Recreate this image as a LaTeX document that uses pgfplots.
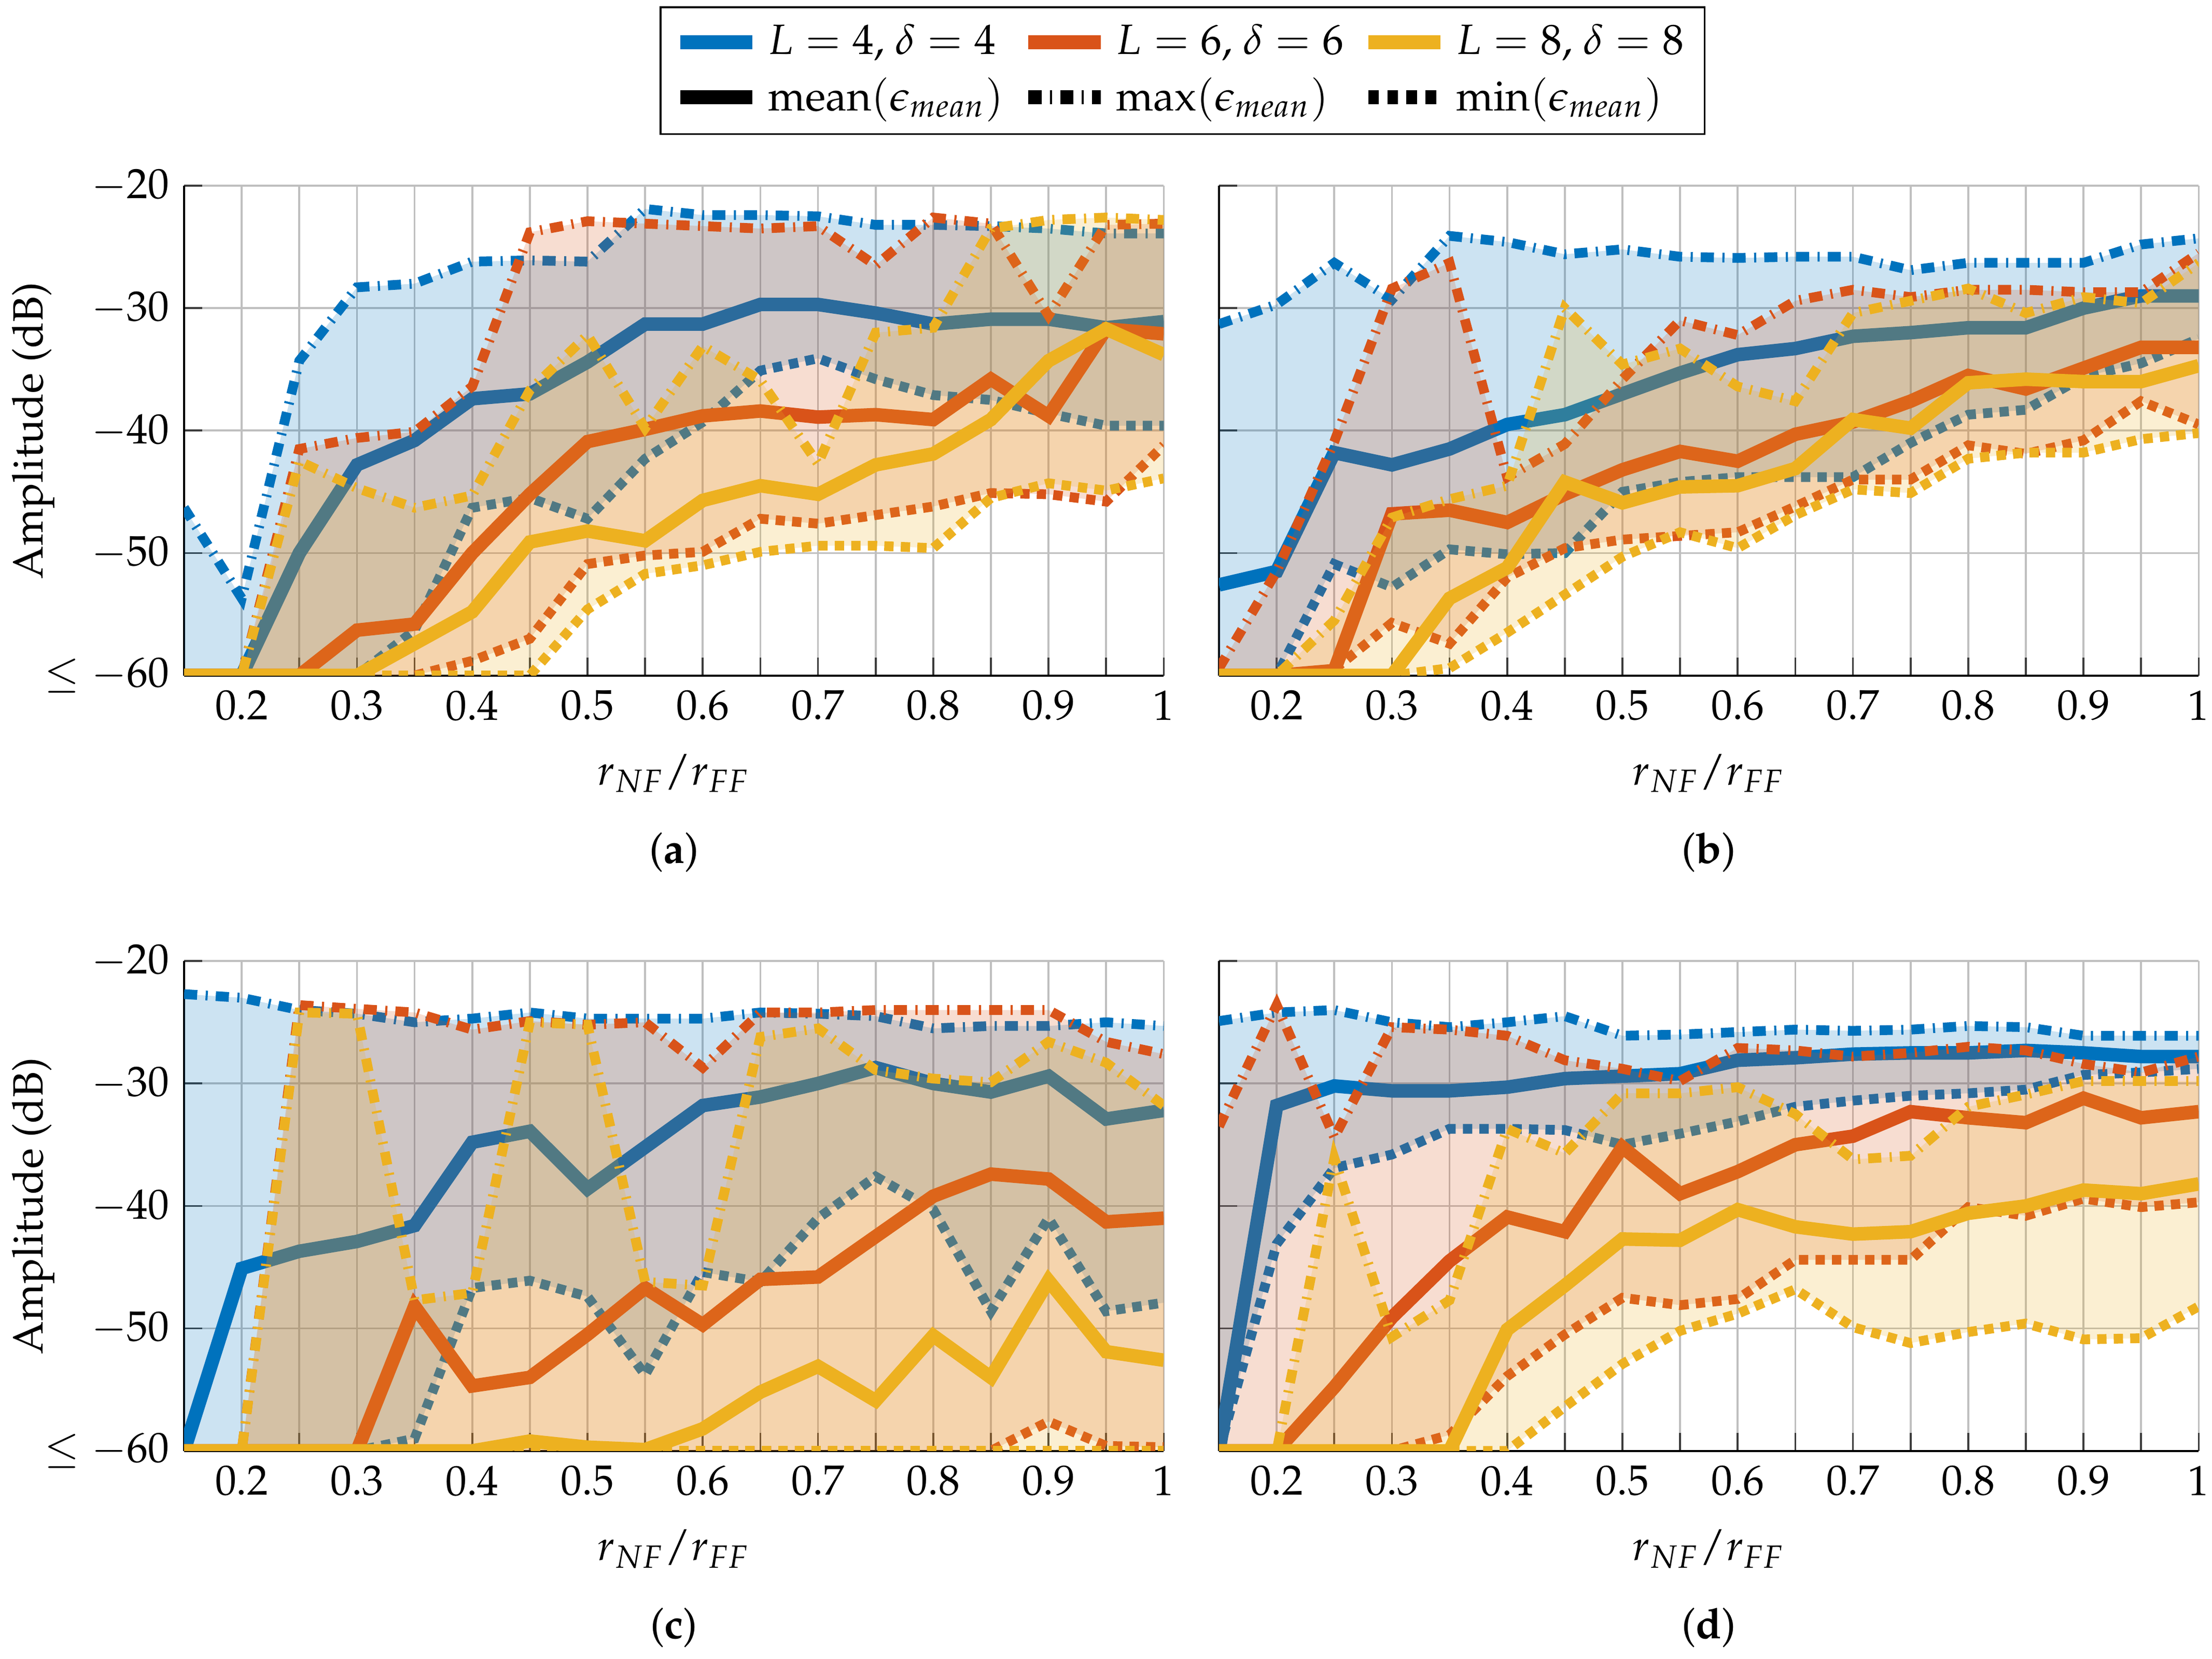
\documentclass[border=0pt]{standalone}
\usepackage[T1]{fontenc}
\usepackage{mathpazo}
\usepackage{pgfplots}
\pgfplotsset{compat=1.18}
\usepackage{pgfplotstable}
\usepgfplotslibrary{fillbetween}

% draw the filled areas in sequence with the lines (not on a layer below them)
\pgfkeysifdefined{/tikz/fill between/on layer/.@cmd}{\tikzset{fill between/on layer=main}}{}
\pgfkeysifdefined{/tikz/fill between/on layer}{\tikzset{fill between/on layer=main}}{}
\pgfkeysifdefined{/pgfplots/fill between/on layer/.@cmd}{\pgfplotsset{fill between/on layer=main}}{}
\pgfkeysifdefined{/pgfplots/fill between/on layer}{\pgfplotsset{fill between/on layer=main}}{}

\definecolor{mblue}{RGB}{0,114,189}
\definecolor{morange}{RGB}{217,83,25}
\definecolor{myellow}{RGB}{237,177,32}
\definecolor{gridc}{RGB}{191,191,191}
\definecolor{tickc}{RGB}{60,60,60}

% panel (a)
\pgfplotstableread{
x    bmean  bmax   bmin   omean  omax   omin   ymean  ymax   ymin
0.15 -60    -46.3  -60    -60    -60    -60    -60    -60    -60
0.20 -60    -53.7  -60    -60    -60    -60    -60    -60    -60
0.25 -50.0  -34.3  -60    -60    -41.5  -60    -60    -42.5  -60
0.30 -42.8  -28.3  -60    -56.3  -40.6  -60    -60    -44.7  -60
0.35 -40.8  -28.0  -56.3  -55.8  -40.1  -60    -57.4  -46.3  -60
0.40 -37.4  -26.2  -46.3  -50.0  -36.4  -58.8  -54.8  -45.3  -60
0.45 -37.0  -26.1  -45.5  -45.2  -23.8  -57.0  -49.1  -36.7  -60
0.50 -34.4  -26.2  -47.2  -40.9  -22.9  -50.9  -48.2  -32.2  -54.6
0.55 -31.3  -21.9  -42.3  -39.9  -23.1  -50.2  -49.0  -39.8  -51.7
0.60 -31.3  -22.4  -39.3  -38.8  -23.3  -49.9  -45.7  -33.1  -51.0
0.65 -29.7  -22.4  -35.1  -38.4  -23.5  -47.2  -44.5  -35.9  -49.9
0.70 -29.7  -22.5  -34.1  -38.9  -23.3  -47.6  -45.2  -42.7  -49.4
0.75 -30.4  -23.2  -35.8  -38.7  -26.5  -46.9  -42.8  -32.0  -49.4
0.80 -31.3  -23.2  -37.1  -39.1  -22.6  -46.2  -41.9  -31.6  -49.6
0.85 -30.9  -23.3  -37.5  -35.8  -23.1  -45.1  -39.1  -23.5  -45.5
0.90 -30.9  -23.5  -38.6  -38.8  -30.6  -45.2  -34.3  -22.8  -44.3
0.95 -31.6  -23.9  -39.6  -31.7  -23.2  -45.8  -31.7  -22.6  -44.9
1.00 -31.1  -23.9  -39.6  -32.1  -23.1  -41.2  -33.8  -22.8  -43.9
}\tabA

% panel (b)
\pgfplotstableread{
x    bmean  bmax   bmin   omean  omax   omin   ymean  ymax   ymin
0.15 -52.6  -31.3  -60    -60    -59.4  -60    -60    -60    -60
0.20 -51.5  -29.7  -60    -60    -51.5  -60    -60    -60    -60
0.25 -41.8  -26.3  -50.9  -59.6  -40.9  -59.5  -60    -55.5  -60
0.30 -42.8  -29.3  -52.8  -46.8  -28.4  -55.7  -60    -47.1  -60
0.35 -41.5  -24.1  -49.7  -46.5  -26.3  -57.4  -53.7  -45.6  -59.4
0.40 -39.5  -24.6  -50.1  -47.5  -43.8  -52.0  -51.2  -44.5  -56.5
0.45 -38.7  -25.6  -50.0  -45.2  -41.1  -49.6  -44.2  -30.0  -53.4
0.50 -37.0  -25.2  -45.0  -43.2  -35.8  -48.9  -45.9  -34.6  -50.3
0.55 -35.3  -25.8  -44.2  -41.7  -31.0  -48.6  -44.6  -33.3  -48.3
0.60 -33.8  -25.9  -43.8  -42.5  -32.2  -48.3  -44.5  -36.4  -49.6
0.65 -33.3  -25.8  -43.8  -40.3  -29.4  -46.2  -43.1  -37.6  -46.9
0.70 -32.3  -25.8  -43.8  -39.3  -28.5  -44.0  -39.1  -30.4  -44.8
0.75 -32.0  -26.9  -41.0  -37.6  -29.1  -44.0  -39.8  -29.4  -45.1
0.80 -31.6  -26.3  -38.7  -35.5  -28.5  -41.2  -36.1  -28.4  -42.3
0.85 -31.6  -26.3  -38.3  -36.6  -28.5  -41.9  -35.8  -30.4  -41.8
0.90 -30.0  -26.3  -35.6  -34.9  -28.7  -40.8  -36.0  -29.1  -41.8
0.95 -29.0  -24.8  -34.5  -33.2  -28.7  -37.6  -36.0  -29.6  -40.7
1.00 -29.0  -24.3  -32.5  -33.2  -25.5  -39.5  -34.7  -26.3  -40.2
}\tabB

% panel (c)
\pgfplotstableread{
x    bmean  bmax   bmin   omean  omax   omin   ymean  ymax   ymin
0.15 -60    -22.7  -60    -60    -60    -60    -60    -60    -60
0.20 -45.1  -23.0  -60    -60    -60    -60    -60    -60    -60
0.25 -43.7  -24.0  -60    -60    -23.6  -60    -60    -24.2  -60
0.30 -42.9  -24.3  -60    -60    -23.9  -60    -60    -24.3  -60
0.35 -41.6  -25.0  -59.0  -48.2  -24.2  -60    -60    -47.7  -60
0.40 -34.8  -24.7  -46.7  -54.7  -25.6  -60    -60    -47.1  -60
0.45 -33.9  -24.2  -46.1  -54.0  -24.9  -60    -59.2  -25.0  -60
0.50 -38.6  -24.7  -47.4  -50.5  -25.2  -60    -59.7  -25.2  -60
0.55 -35.2  -24.7  -53.8  -46.7  -25.0  -60    -59.9  -46.2  -60
0.60 -31.8  -24.7  -45.4  -49.7  -28.7  -60    -58.2  -46.5  -60
0.65 -31.1  -24.2  -46.2  -46.0  -24.2  -60    -55.2  -26.2  -60
0.70 -30.0  -24.3  -41.0  -45.8  -24.2  -60    -53.1  -25.5  -60
0.75 -28.7  -24.5  -37.6  -42.5  -24.0  -60    -55.9  -28.9  -60
0.80 -30.0  -25.5  -40.3  -39.2  -24.0  -60    -50.6  -29.6  -60
0.85 -30.7  -25.3  -48.6  -37.4  -24.0  -60    -54.0  -29.9  -60
0.90 -29.4  -25.3  -41.0  -37.8  -24.0  -57.6  -46.1  -26.6  -60
0.95 -32.9  -25.0  -48.6  -41.3  -26.6  -59.6  -51.9  -28.3  -60
1.00 -32.2  -25.3  -47.9  -41.0  -27.6  -59.7  -52.6  -31.8  -60
}\tabC

% panel (d)
\pgfplotstableread{
x    bmean  bmax   bmin   omean  omax   omin   ymean  ymax   ymin
0.15 -60    -24.9  -60    -60    -33.5  -60    -60    -60    -60
0.20 -31.8  -24.2  -43.1  -60    -23.6  -60    -60    -60    -60
0.25 -30.2  -24.0  -36.9  -54.8  -34.4  -60    -60    -36.1  -60
0.30 -30.6  -25.0  -35.8  -49.1  -25.4  -60    -60    -50.7  -60
0.35 -30.6  -25.4  -33.7  -44.5  -25.6  -58.7  -60    -47.7  -60
0.40 -30.3  -25.0  -33.7  -40.9  -26.1  -53.9  -50.1  -33.7  -60
0.45 -29.6  -24.5  -33.8  -42.1  -28.1  -50.5  -46.5  -35.7  -56.4
0.50 -29.4  -26.1  -35.0  -35.2  -28.8  -47.5  -42.7  -30.8  -52.9
0.55 -29.2  -26.0  -34.1  -39.0  -29.8  -48.1  -42.8  -30.8  -50.2
0.60 -28.1  -25.8  -33.1  -37.2  -27.1  -47.6  -40.3  -30.3  -48.8
0.65 -27.9  -25.6  -31.9  -35.0  -27.3  -44.4  -41.7  -32.5  -46.8
0.70 -27.6  -25.7  -31.4  -34.3  -27.8  -44.4  -42.3  -36.2  -49.9
0.75 -27.5  -25.6  -31.0  -32.3  -27.5  -44.4  -42.1  -35.9  -51.2
0.80 -27.5  -25.3  -30.8  -32.8  -27.0  -40.1  -40.6  -31.9  -50.3
0.85 -27.3  -25.4  -30.5  -33.2  -27.3  -40.8  -40.0  -30.9  -49.6
0.90 -27.5  -26.1  -29.3  -31.2  -28.4  -39.4  -38.7  -29.8  -50.9
0.95 -27.8  -26.1  -29.1  -32.8  -29.1  -40.1  -39.0  -29.8  -50.8
1.00 -27.8  -26.1  -28.8  -32.3  -27.8  -39.7  -38.2  -29.8  -48.2
}\tabD

\pgfplotsset{
  panel/.style={
    scale only axis, width=231.46pt, height=115.70pt,
    xmin=0.15, xmax=1, ymin=-60, ymax=-20,
    axis x line*=bottom, axis y line*=left,
    axis line style={black, line width=0.5pt},
    xtick={0.2,0.3,0.4,0.5,0.6,0.7,0.8,0.9,1},
    minor xtick={0.15,0.25,0.35,0.45,0.55,0.65,0.75,0.85,0.95},
    ytick={-60,-50,-40,-30,-20},
    grid=both,
    major grid style={gridc, line width=0.45pt},
    minor grid style={gridc, line width=0.45pt},
    tick align=inside,
    major tick length=4.25pt, minor tick length=4.25pt,
    tick style={tickc, line width=0.45pt},
    xlabel={$r_{NF}/r_{FF}$},
    xlabel style={at={(axis description cs:0.5,-0.1996)}, anchor=center},
  },
  leftpanel/.style={
    yticklabels={$\leq -60$,$-50$,$-40$,$-30$,$-20$},
    ylabel={Amplitude (dB)},
    ylabel style={at={(axis description cs:-0.154,0.5)}, anchor=center},
  },
  rightpanel/.style={yticklabels={}},
  maxst/.style={line width=2.3pt, dash pattern=on 3.1pt off 2pt on 0.5pt off 1.9pt},
  minst/.style={line width=2.3pt, dash pattern=on 2.2pt off 1.7pt},
  meanst/.style={line width=3.2pt},
}

\newcommand{\grp}[4]{%
  \addplot[maxst, color=#3, name path=#4#2max] table[x=x, y=#2max] {#1};
  \addplot[minst, color=#3, name path=#4#2min] table[x=x, y=#2min] {#1};
  \addplot[fill=#3, fill opacity=0.2, draw=none] fill between[of=#4#2max and #4#2min];
  \addplot[meanst, color=#3] table[x=x, y=#2mean] {#1};
}
\newcommand{\allgrp}[2]{%
  \grp{#1}{b}{mblue}{#2}%
  \grp{#1}{o}{morange}{#2}%
  \grp{#1}{y}{myellow}{#2}%
}

\begin{document}
\begin{tikzpicture}
% (a)
\begin{axis}[panel, leftpanel, at={(0pt,0pt)}, anchor=south west,
  legend style={at={(1.0193,1.235)}, anchor=center, draw=black, fill=white,
    legend columns=3, legend cell align=left,
    /tikz/every even column/.append style={column sep=2.2pt}},
  extra description/.code={\node at (0.5,-0.3607) {(\textbf{a})};}]
\addlegendimage{line width=3.3pt, mblue}
\addlegendentry{$L=4$, $\delta=4$}
\addlegendimage{line width=3.3pt, morange}
\addlegendentry{$L=6$, $\delta=6$}
\addlegendimage{line width=3.3pt, myellow}
\addlegendentry{$L=8$, $\delta=8$}
\addlegendimage{line width=3.3pt, black}
\addlegendentry{$\mathrm{mean}(\epsilon_{mean})$}
\addlegendimage{line width=3.3pt, black, dash pattern=on 3.1pt off 2pt on 0.5pt off 1.9pt}
\addlegendentry{$\max(\epsilon_{mean})$}
\addlegendimage{line width=3.3pt, black, dash pattern=on 2.5pt off 2pt}
\addlegendentry{$\min(\epsilon_{mean})$}
\allgrp{\tabA}{a}
\end{axis}
% (b)
\begin{axis}[panel, rightpanel, at={(244.51pt,0pt)}, anchor=south west,
  extra description/.code={\node at (0.5,-0.3607) {(\textbf{b})};}]
\allgrp{\tabB}{b}
\end{axis}
% (c)
\begin{axis}[panel, leftpanel, at={(0pt,-183.15pt)}, anchor=south west,
  extra description/.code={\node at (0.5,-0.3607) {(\textbf{c})};}]
\allgrp{\tabC}{c}
\end{axis}
% (d)
\begin{axis}[panel, rightpanel, at={(244.51pt,-183.15pt)}, anchor=south west,
  extra description/.code={\node at (0.5,-0.3607) {(\textbf{d})};}]
\allgrp{\tabD}{d}
\end{axis}
\pgfresetboundingbox
\path[use as bounding box] (-43.49pt,-232.20pt) rectangle (479.10pt,159.56pt);
\end{tikzpicture}
\end{document}
